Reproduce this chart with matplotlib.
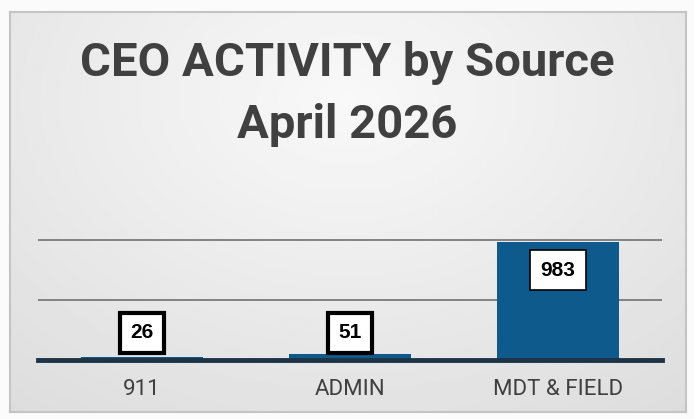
import numpy as np
import matplotlib.pyplot as plt

categories = ["911", "ADMIN", "MDT & FIELD"]
counts = [26, 51, 983]
title = "CEO ACTIVITY by Source\nApril 2026"

W, H = 694, 419
fig = plt.figure(figsize=(W / 100, H / 100), dpi=100)
fig.patch.set_facecolor("#fbfbfb")

# gray card behind everything, lighter around the title
bg = fig.add_axes([10 / W, 7 / H, 676 / W, 400 / H])
yy, xx = np.mgrid[0:1:200j, 0:1:340j]
shade = 0.975 - 0.10 * np.sqrt(((xx - 0.5) / 0.75) ** 2 + ((yy - 0.22) / 0.9) ** 2)
shade = np.clip(shade, 0.82, 0.975)
bg.imshow(shade, cmap="gray", vmin=0, vmax=1, aspect="auto", extent=[0, 1, 1, 0])
bg.set_xlim(0, 1)
bg.set_ylim(1, 0)
for s in bg.spines.values():
    s.set_color("#c4c4c4")
    s.set_linewidth(1.5)
bg.set_xticks([])
bg.set_yticks([])

fonts = ["Roboto", "DejaVu Sans"]
fig.text(0.5, 1 - 94 / H, title, ha="center", va="center",
         fontsize=34, fontweight="bold", color="#404040",
         family=fonts, linespacing=1.5)

ax = fig.add_axes([38 / W, 59 / H, 624 / W, 126 / H])
ax.set_facecolor("none")
x = np.arange(len(categories))
bars = ax.bar(x, counts, width=0.59, color="#0f5a8c", zorder=2)
ax.set_xlim(-0.5, 2.5)
ax.set_ylim(0, 1050)
ax.set_yticks([500, 1000])
ax.yaxis.grid(True, color="#7a7a7a", linewidth=1.3, zorder=0)
ax.tick_params(axis="y", left=False, labelleft=False)
ax.tick_params(axis="x", length=0, pad=14)
ax.set_xticks(x)
ax.set_xticklabels(categories, fontsize=16, color="#404040", family=fonts)
for s in ["top", "left", "right"]:
    ax.spines[s].set_visible(False)
ax.spines["bottom"].set_color("#1d3447")
ax.spines["bottom"].set_linewidth(3.5)
ax.spines["bottom"].set_zorder(3)

lbl_font = ["Liberation Sans", "DejaVu Sans"]
box = dict(boxstyle="square,pad=0.5", facecolor="white", edgecolor="black", linewidth=3)
for xi, v in zip(x, counts):
    if v > 500:
        ax.text(xi, v - 233, str(v), ha="center", va="center", fontsize=15,
                fontweight="bold", color="black", family=lbl_font,
                bbox=dict(box, linewidth=1.2, pad=0.4), zorder=4)
    else:
        ax.text(xi, 225, str(v), ha="center", va="center", fontsize=15,
                fontweight="bold", color="black", family=lbl_font,
                bbox=box, zorder=4)

fig.savefig("out.png", dpi=100, facecolor=fig.get_facecolor())
